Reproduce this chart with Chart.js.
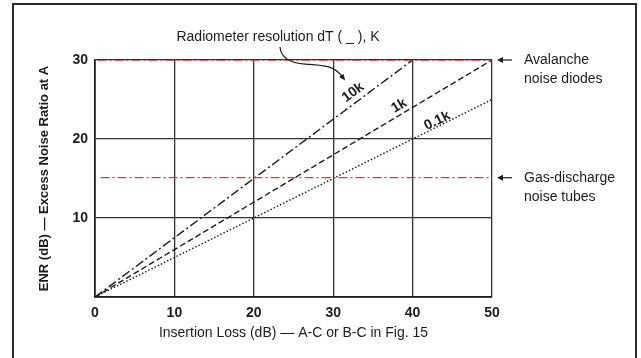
<!DOCTYPE html>
<html>
<head>
<meta charset="utf-8">
<script src="https://cdn.jsdelivr.net/npm/chart.js@4/dist/chart.umd.min.js"></script>
<style>
  body { margin: 0; background: #fff; overflow: hidden; }
  #frame { position: absolute; left: 12px; top: 3px; width: 621px; height: 370px; border: 2px solid #2a2a2a; }
  #wrap { position: absolute; left: 0; top: 0; width: 641px; height: 358px; }
</style>
</head>
<body>
<div id="frame"></div>
<div id="wrap"><canvas id="grafico" width="641" height="358"></canvas></div>
<script>
// insertion loss (dB) vs ENR (dB) for each radiometer resolution
const res10kX = [0, 40];
const res10kY = [0, 30];
const res1kX = [0, 50];
const res1kY = [0, 30];
const res01kX = [0, 50];
const res01kY = [0, 25];

// source levels (red dash-dot)
const avalancheX = [0.3, 50];
const avalancheY = [30, 30];
const gasTubeX = [0.7, 50];
const gasTubeY = [15.1, 15.1];

const xTicks = [0, 10, 20, 30, 40, 50];
const yTicks = [10, 20, 30];

const lineLabels = ['10k', '1k', '0.1k'];
const fontFam = '"Liberation Sans", Arial, sans-serif';
const ink = '#1c1c1c';

function pts(xs, ys) {
  return xs.map((x, i) => ({ x: x, y: ys[i] }));
}

function lineSet(label, xs, ys, color, dash, w) {
  return {
    label: label,
    data: pts(xs, ys),
    showLine: true,
    borderColor: color,
    borderWidth: w,
    borderDash: dash,
    pointRadius: 0,
    fill: false
  };
}

const annot = {
  id: 'annot',
  afterDatasetsDraw(chart) {
    const ctx = chart.ctx;
    const xs = chart.scales.x;
    const ys = chart.scales.y;
    const a = chart.chartArea;
    const px = v => xs.getPixelForValue(v);
    const py = v => ys.getPixelForValue(v);
    ctx.save();
    ctx.fillStyle = ink;
    ctx.strokeStyle = ink;

    // labels along the lines
    const labelPos = [
      { x: 32.5, y: 25.9, sx: res10kX, sy: res10kY },
      { x: 38.3, y: 24.2, sx: res1kX, sy: res1kY },
      { x: 43.1, y: 22.3, sx: res01kX, sy: res01kY }
    ];
    ctx.font = 'bold 14px ' + fontFam;
    ctx.textAlign = 'center';
    ctx.textBaseline = 'middle';
    labelPos.forEach((p, i) => {
      const ang = Math.atan2(py(p.sy[1]) - py(p.sy[0]), px(p.sx[1]) - px(p.sx[0]));
      ctx.save();
      ctx.translate(px(p.x), py(p.y));
      ctx.rotate(ang);
      ctx.fillText(lineLabels[i], 0, 0);
      ctx.restore();
    });

    // title over the plot + curved arrow
    ctx.font = '14px ' + fontFam;
    ctx.fillText('Radiometer resolution dT ( _ ), K', 278, 37);
    ctx.lineWidth = 1.2;
    ctx.setLineDash([]);
    ctx.beginPath();
    ctx.moveTo(px(23.3), py(31.65));
    ctx.bezierCurveTo(px(23.43), py(30.25), px(24.56), py(29.62), px(26.45), py(29.49));
    ctx.bezierCurveTo(px(28.97), py(29.37), px(30.3), py(29.2), px(31.2), py(27.8));
    ctx.stroke();
    // arrow head
    const hx = px(31.5), hy = py(27.4);
    const ang = Math.atan2(hy - py(28.6), hx - px(30.6));
    ctx.beginPath();
    ctx.moveTo(hx, hy);
    ctx.lineTo(hx - 7 * Math.cos(ang - 0.4), hy - 7 * Math.sin(ang - 0.4));
    ctx.lineTo(hx - 7 * Math.cos(ang + 0.4), hy - 7 * Math.sin(ang + 0.4));
    ctx.closePath();
    ctx.fill();

    // right side notes
    const notes = [
      { y: avalancheY[0], lines: ['Avalanche', 'noise diodes'] },
      { y: gasTubeY[0], lines: ['Gas-discharge', 'noise tubes'] }
    ];
    ctx.font = '14px ' + fontFam;
    ctx.textAlign = 'left';
    notes.forEach(n => {
      const yy = py(n.y);
      ctx.beginPath();
      ctx.moveTo(a.right + 20, yy);
      ctx.lineTo(a.right + 9, yy);
      ctx.stroke();
      ctx.beginPath();
      ctx.moveTo(a.right + 5, yy);
      ctx.lineTo(a.right + 11, yy - 3);
      ctx.lineTo(a.right + 11, yy + 3);
      ctx.closePath();
      ctx.fill();
      n.lines.forEach((t, i) => ctx.fillText(t, a.right + 32, yy + i * 19));
    });

    // axis titles
    ctx.textAlign = 'center';
    ctx.font = '14px ' + fontFam;
    ctx.fillText('Insertion Loss (dB) \u2014 A-C or B-C in Fig. 15', (a.left + a.right) / 2, 333);
    ctx.save();
    ctx.translate(44, (a.top + a.bottom) / 2);
    ctx.rotate(-Math.PI / 2);
    ctx.font = 'bold 13px ' + fontFam;
    ctx.fillText('ENR (dB) \u2014 Excess Noise Ratio at A', 0, 0);
    ctx.restore();

    ctx.restore();
  }
};

const ctx = document.getElementById('grafico').getContext('2d');
new Chart(ctx, {
  type: 'scatter',
  data: {
    datasets: [
      lineSet('Avalanche noise diodes', avalancheX, avalancheY, '#e0383a', [9, 3, 2, 3], 1.3),
      lineSet('Gas-discharge noise tubes', gasTubeX, gasTubeY, '#e0383a', [9, 3, 2, 3], 1.3),
      lineSet('10k', res10kX, res10kY, ink, [9, 3, 2, 3], 1.4),
      lineSet('1k', res1kX, res1kY, ink, [6, 3], 1.4),
      lineSet('0.1k', res01kX, res01kY, ink, [1.5, 2], 1.4)
    ]
  },
  options: {
    responsive: false,
    animation: false,
    devicePixelRatio: 1,
    layout: { padding: { left: 50, right: 149, top: 60, bottom: 16 } },
    plugins: { legend: { display: false }, tooltip: { enabled: false } },
    scales: {
      x: {
        type: 'linear',
        min: 0,
        max: 50,
        afterFit: s => { s.height = 45; },
        afterBuildTicks: s => { s.ticks = xTicks.map(v => ({ value: v })); },
        grid: { color: '#333', lineWidth: 1.3, drawTicks: false },
        border: { color: '#1c1c1c', width: 1.7 },
        ticks: { color: ink, padding: 8, maxRotation: 0, font: { family: fontFam, size: 14, weight: 'bold' } }
      },
      y: {
        type: 'linear',
        min: 0,
        max: 30,
        afterFit: s => { s.width = 45; },
        afterBuildTicks: s => { s.ticks = [0].concat(yTicks).map(v => ({ value: v })); },
        grid: { color: '#333', lineWidth: 1.3, drawTicks: false },
        border: { color: '#1c1c1c', width: 1.7 },
        ticks: {
          color: ink,
          padding: 7,
          font: { family: fontFam, size: 14, weight: 'bold' },
          callback: v => (yTicks.includes(v) ? String(v) : '')
        }
      }
    }
  },
  plugins: [annot]
});
</script>
</body>
</html>
